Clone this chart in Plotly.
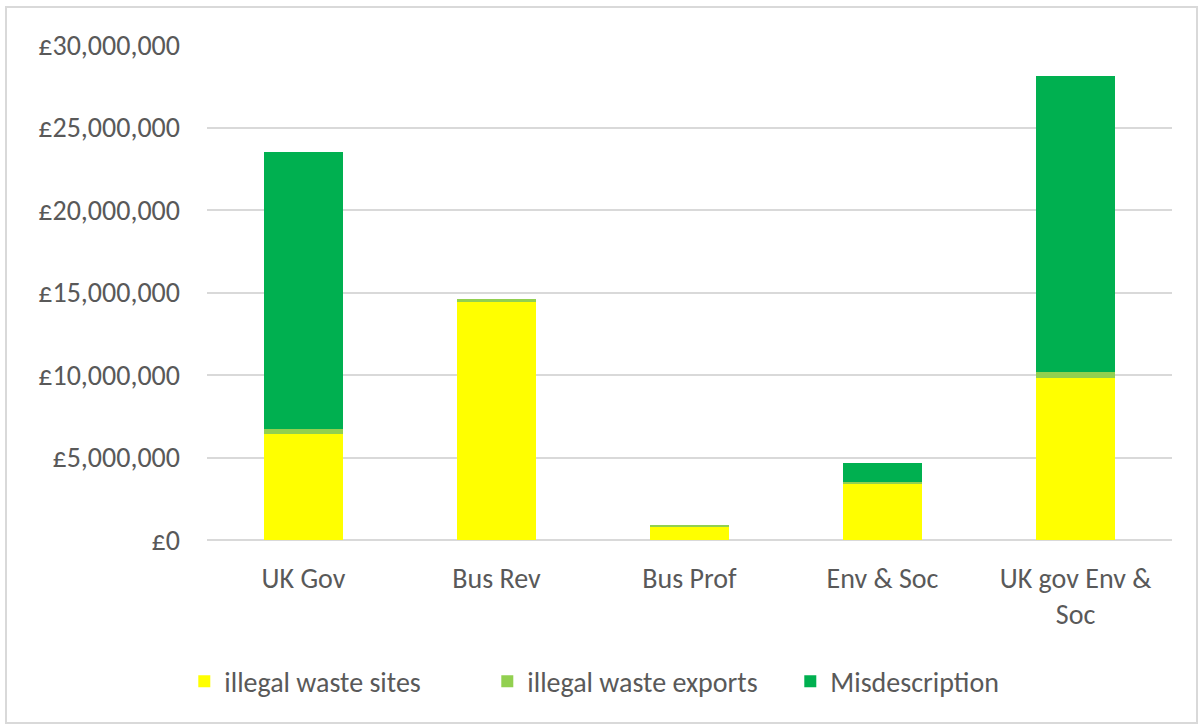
import plotly.graph_objects as go

categories = ["UK Gov", "Bus Rev", "Bus Prof", "Env & Soc", "UK gov Env &<br>Soc"]
illegal_waste_sites = [6420000, 14420000, 800000, 3450000, 9840000]
illegal_waste_exports = [310000, 170000, 70000, 40000, 360000]
misdescription = [16800000, 0, 0, 1190000, 17900000]

tick_vals = [0, 5000000, 10000000, 15000000, 20000000, 25000000, 30000000]
tick_text = ["£0", "£5,000,000", "£10,000,000", "£15,000,000",
             "£20,000,000", "£25,000,000", "£30,000,000"]

W, H = 1203, 725
L, R, T, B = 207, 31, 45, 185
text_color = "#595959"
font_family = "Calibri, Carlito, Lato, sans-serif"
fs = 28

fig = go.Figure()
series = [
    ("illegal waste sites", illegal_waste_sites, "#FFFF00"),
    ("illegal waste exports", illegal_waste_exports, "#92D050"),
    ("Misdescription", misdescription, "#00B050"),
]
for name, vals, color in series:
    fig.add_trace(go.Bar(name=name, x=categories, y=vals, marker_color=color,
                         marker_line_width=0))

# frame around the whole chart, expressed in plot-area paper units
pw, ph = W - L - R, H - T - B
def px_x(px):
    return (px - L) / pw
def px_y(py):
    return (H - B - py) / ph

fig.add_shape(type="rect", xref="paper", yref="paper",
              x0=px_x(6), x1=px_x(1197), y0=px_y(723), y1=px_y(7),
              line=dict(color="#D9D9D9", width=2), layer="below")

fig.update_layout(
    width=W, height=H,
    barmode="stack", bargap=0.595,
    margin=dict(l=L, r=R, t=T, b=B),
    paper_bgcolor="white", plot_bgcolor="white",
    font=dict(family=font_family, size=fs, color=text_color),
    showlegend=True,
    legend=dict(orientation="h", xref="container", yref="container",
                x=0.531, xanchor="center", y=0.06, yanchor="middle",
                font=dict(size=fs, color=text_color), traceorder="normal",
                itemwidth=30, entrywidth=258),
    xaxis=dict(showgrid=False, showline=False, ticks="",
               ticklabelstandoff=19,
               tickfont=dict(size=fs, color=text_color)),
    yaxis=dict(range=[0, 30000000], tickvals=tick_vals, ticktext=tick_text,
               showgrid=True, gridcolor="#D9D9D9", gridwidth=1.5,
               zeroline=True, zerolinecolor="#D9D9D9", zerolinewidth=1.5,
               ticklabelstandoff=26,
               tickfont=dict(size=fs, color=text_color)),
)

fig.write_html("out.html")
